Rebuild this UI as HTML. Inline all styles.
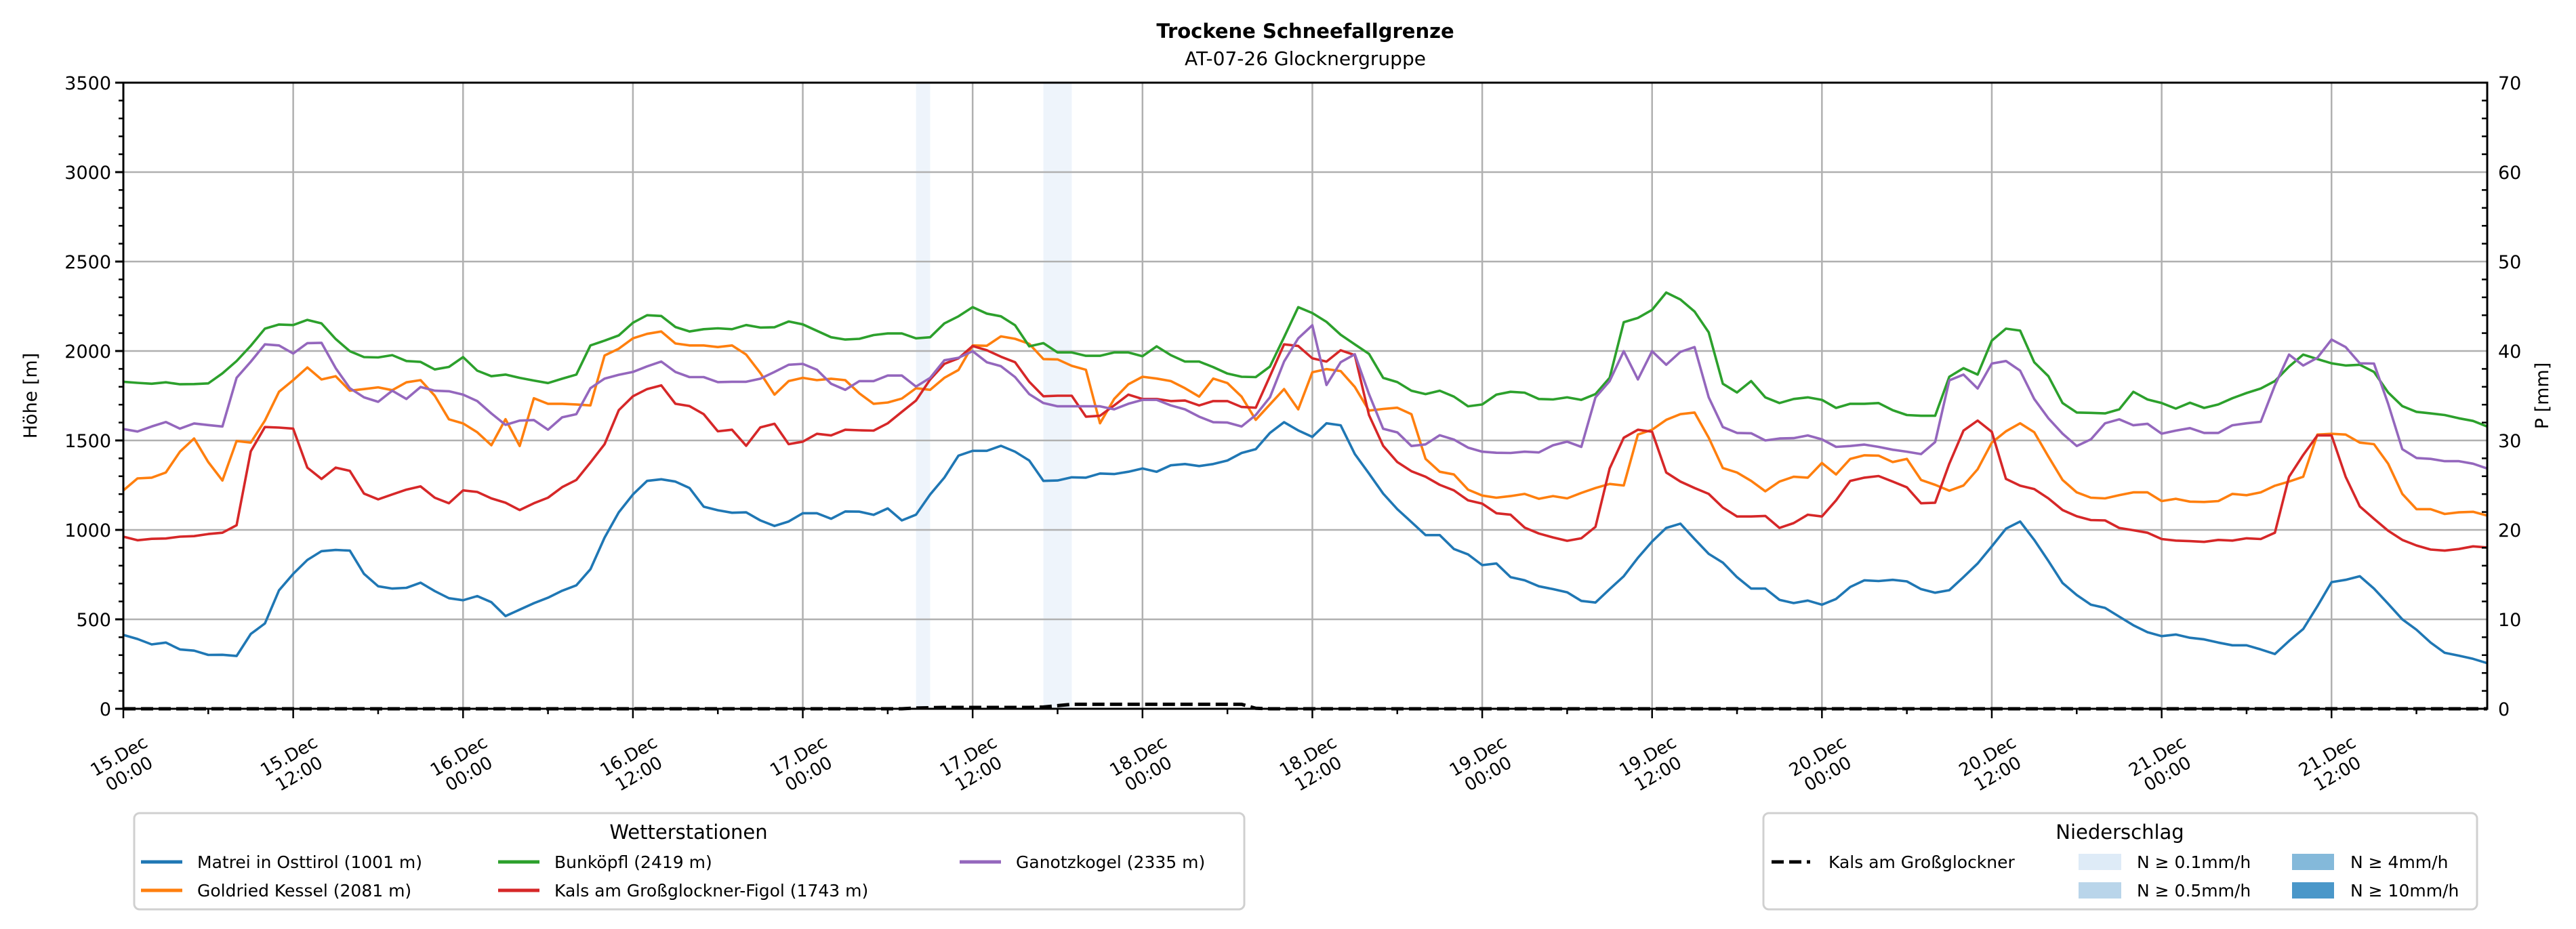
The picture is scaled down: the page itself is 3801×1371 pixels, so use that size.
<!DOCTYPE html>
<html><head><meta charset="utf-8"><style>
html,body{margin:0;padding:0;background:#fff;}
svg{display:block;font-family:"DejaVu Sans","Liberation Sans",sans-serif;}
</style></head><body>
<svg id="chart" width="3801" height="1371" viewBox="0 0 3801 1371" xmlns="http://www.w3.org/2000/svg">
<rect width="3801" height="1371" fill="#fff"/>
<text x="1926" y="56" text-anchor="middle" font-size="29" font-weight="bold">Trockene Schneefallgrenze</text>
<text x="1926" y="96" text-anchor="middle" font-size="28">AT-07-26 Glocknergruppe</text>
<g id="bands"></g>
<g id="grid"></g>
<g id="series"></g>
<g id="axes"></g>
<text transform="translate(54,584) rotate(-90)" text-anchor="middle" font-size="27">Höhe [m]</text>
<text transform="translate(3760,584) rotate(-90)" text-anchor="middle" font-size="27">P [mm]</text>
<g id="legend1">
<rect x="198" y="1200" width="1638" height="142" rx="8" fill="#fff" stroke="#d0d0d0" stroke-width="3"/>
<text x="1016" y="1238" text-anchor="middle" font-size="29">Wetterstationen</text>
</g>
<g id="legend2">
<rect x="2602" y="1200" width="1053" height="142" rx="8" fill="#fff" stroke="#d0d0d0" stroke-width="3"/>
<text x="3128" y="1238" text-anchor="middle" font-size="29">Niederschlag</text>
<line x1="2614" y1="1272" x2="2671" y2="1272" stroke="#000" stroke-width="5" stroke-dasharray="18 8"/>
<text x="2698" y="1281" font-size="25">Kals am Großglockner</text>
<rect x="3067" y="1260" width="63" height="24" fill="#deebf7"/>
<text x="3153" y="1281" font-size="25">N ≥ 0.1mm/h</text>
<rect x="3067" y="1302" width="63" height="24" fill="#b9d5ea"/>
<text x="3153" y="1323" font-size="25">N ≥ 0.5mm/h</text>
<rect x="3382" y="1260" width="62" height="24" fill="#84b9da"/>
<text x="3468" y="1281" font-size="25">N ≥ 4mm/h</text>
<rect x="3382" y="1302" width="62" height="24" fill="#4a97c9"/>
<text x="3468" y="1323" font-size="25">N ≥ 10mm/h</text>
</g>
</svg>
<script>
const stationNames=["Matrei in Osttirol (1001 m)","Goldried Kessel (2081 m)","Bunköpfl (2419 m)","Kals am Großglockner-Figol (1743 m)","Ganotzkogel (2335 m)"];
const stationColors=["#1f77b4","#ff7f0e","#2ca02c","#d62728","#9467bd"];
const matrei=[413,390,360,370,332,325,301,302,295,418,477,662,754,832,881,888,884,754,685,672,676,705,658,618,607,630,596,518,554,590,621,660,690,780,957,1098,1198,1274,1283,1270,1234,1130,1110,
1096,1098,1053,1022,1047,1093,1093,1062,1103,1102,1084,1120,1053,1085,1198,1292,1415,1442,1442,1470,1437,1388,1274,1276,1294,1292,1315,1312,1325,1343,1325,1361,1368,1357,1368,1388,1430,1451,1542,1602,1556,
1520,1596,1585,1424,1315,1203,1116,1044,971,971,893,863,803,812,736,718,685,669,651,603,594,669,741,844,935,1011,1035,949,866,817,736,672,672,609,591,605,582,614,681,718,714,721,
712,669,649,663,736,812,908,1007,1047,944,826,703,636,582,564,515,467,428,406,415,397,388,370,355,355,332,306,379,446,573,708,721,741,672,587,500,442,370,313,297,279,255];
const goldried=[1221,1288,1292,1321,1437,1511,1379,1276,1497,1488,1611,1772,1837,1908,1841,1859,1778,1787,1797,1781,1825,1837,1750,1618,1595,1546,1473,1619,1469,1736,1705,1705,1701,1696,1975,2013,2071,2096,2109,2042,2031,2031,2022,
2031,1980,1877,1756,1832,1850,1837,1845,1837,1763,1705,1712,1734,1792,1783,1850,1894,2031,2029,2082,2068,2040,1955,1953,1917,1895,1596,1732,1814,1856,1846,1832,1792,1745,1846,1821,1745,1615,1701,1787,1674,
1881,1899,1888,1799,1667,1676,1683,1647,1397,1325,1310,1225,1192,1180,1189,1201,1174,1189,1176,1207,1234,1257,1248,1533,1560,1615,1647,1656,1515,1346,1321,1274,1216,1270,1297,1292,1374,1310,1397,1417,1415,1379,
1397,1279,1252,1219,1248,1339,1488,1551,1596,1546,1410,1279,1210,1180,1176,1194,1210,1210,1161,1174,1158,1156,1161,1201,1194,1210,1247,1270,1297,1533,1537,1533,1488,1479,1370,1201,1116,1116,1089,1098,1101,1080];
const bunkoepfl=[1828,1822,1817,1825,1814,1815,1819,1875,1944,2029,2125,2148,2145,2174,2154,2067,1999,1966,1964,1977,1944,1939,1897,1911,1966,1890,1859,1868,1850,1835,1821,1845,1868,2031,2058,2087,2158,2200,2196,2134,2109,2122,2127,
2122,2145,2131,2133,2165,2149,2113,2077,2064,2068,2089,2098,2098,2071,2077,2154,2194,2245,2209,2194,2144,2026,2044,1992,1992,1973,1973,1992,1992,1971,2026,1977,1941,1941,1910,1874,1856,1854,1913,2077,2245,
2212,2163,2091,2037,1984,1850,1826,1778,1759,1778,1745,1691,1701,1756,1772,1767,1732,1729,1741,1727,1759,1850,2161,2185,2230,2327,2288,2221,2104,1817,1768,1832,1741,1709,1732,1741,1727,1682,1705,1705,1709,1669,
1642,1638,1638,1856,1904,1868,2058,2125,2114,1937,1859,1709,1656,1654,1651,1674,1772,1729,1709,1678,1711,1682,1701,1736,1765,1790,1832,1913,1980,1955,1931,1919,1923,1883,1768,1692,1660,1651,1642,1624,1609,1578];
const kalsFigol=[962,942,950,952,962,965,977,984,1026,1439,1575,1572,1566,1348,1285,1348,1330,1203,1171,1198,1225,1243,1180,1149,1221,1212,1176,1152,1111,1149,1180,1239,1279,1377,1479,1669,1747,1787,1808,1705,1692,1647,1551,
1560,1470,1573,1593,1479,1493,1537,1528,1560,1557,1555,1596,1660,1723,1841,1928,1959,2028,2004,1968,1937,1828,1747,1750,1750,1633,1638,1696,1756,1732,1732,1720,1723,1696,1720,1720,1687,1683,1859,2037,2028,
1959,1941,2004,1977,1642,1470,1379,1328,1297,1252,1221,1165,1147,1093,1085,1013,980,958,939,953,1017,1343,1515,1560,1549,1321,1270,1234,1201,1125,1075,1075,1078,1011,1038,1085,1075,1165,1274,1292,1301,1270,
1238,1149,1152,1370,1555,1611,1548,1285,1247,1228,1176,1111,1076,1055,1053,1011,998,984,949,940,937,933,944,940,953,949,984,1297,1419,1528,1528,1297,1131,1062,995,944,913,890,884,893,908,902];
const ganotzkogel=[1564,1550,1578,1603,1566,1595,1586,1578,1850,1940,2037,2031,1986,2044,2046,1904,1792,1741,1716,1778,1732,1799,1778,1775,1756,1720,1651,1587,1611,1614,1560,1629,1647,1792,1846,1867,1883,1914,1941,1883,1854,1854,1826,
1828,1828,1845,1883,1923,1928,1895,1817,1783,1832,1832,1863,1863,1801,1850,1948,1962,1999,1937,1915,1854,1759,1709,1691,1691,1691,1691,1674,1705,1727,1727,1696,1674,1633,1602,1600,1578,1642,1741,1941,2071,
2144,1810,1937,1982,1759,1565,1545,1469,1478,1529,1505,1460,1437,1431,1430,1437,1433,1473,1493,1464,1741,1832,1999,1841,1999,1923,1995,2022,1741,1575,1542,1540,1500,1511,1513,1528,1506,1464,1469,1477,1464,1448,
1437,1424,1491,1836,1868,1790,1930,1944,1890,1732,1624,1538,1469,1506,1596,1618,1585,1593,1538,1555,1569,1542,1542,1585,1596,1604,1808,1980,1919,1962,2064,2022,1931,1930,1705,1451,1402,1397,1384,1384,1370,1343];
const precipKals=[
0,0,0,0,0,0,0,0,0,0,0,0,
0,0,0,0,0,0,0,0,0,0,0,0,
0,0,0,0,0,0,0,0,0,0,0,0,
0,0,0,0,0,0,0,0,0,0,0,0,
0,0,0,0,0,0,0,0,0.08,0.12,0.15,0.15,
0.15,0.15,0.15,0.15,0.15,0.2,0.35,0.5,0.5,0.5,0.5,0.5,
0.5,0.5,0.5,0.5,0.5,0.5,0.5,0.5,0.05,0,0,0,
0,0,0,0,0,0,0,0,0,0,0,0,
0,0,0,0,0,0,0,0,0,0,0,0,
0,0,0,0,0,0,0,0,0,0,0,0,
0,0,0,0,0,0,0,0,0,0,0,0,
0,0,0,0,0,0,0,0,0,0,0,0,
0,0,0,0,0,0,0,0,0,0,0,0,
0,0,0,0,0,0,0,0,0,0,0,0];
const precipBandHours=[56,65,66];
const tickLabels=["15.Dec|00:00","15.Dec|12:00","16.Dec|00:00","16.Dec|12:00","17.Dec|00:00","17.Dec|12:00","18.Dec|00:00","18.Dec|12:00","19.Dec|00:00","19.Dec|12:00","20.Dec|00:00","20.Dec|12:00","21.Dec|00:00","21.Dec|12:00"];
const yTicks=[0,500,1000,1500,2000,2500,3000,3500];
const y2Ticks=[0,10,20,30,40,50,60,70];

const L=182,R=3670,T=122,B=1046,HMAX=167;
const xS=h=>L+h*(R-L)/HMAX;
const yS=v=>B-v*(B-T)/3500;
const pS=p=>B-p*(B-T)/70;
const NS="http://www.w3.org/2000/svg";
function mk(tag,attrs,parent){const e=document.createElementNS(NS,tag);for(const k in attrs)e.setAttribute(k,attrs[k]);parent.appendChild(e);return e;}

const bands=document.getElementById('bands');
precipBandHours.forEach(h=>{
 const r=mk('rect',{x:xS(h),y:T,width:xS(h+1)-xS(h),height:B-T,fill:'#eef4fb'},bands);
 
 
});

const grid=document.getElementById('grid');
yTicks.forEach(v=>{mk('line',{x1:L,x2:R,y1:yS(v),y2:yS(v),stroke:'#b0b0b0','stroke-width':2.5},grid);});
tickLabels.forEach((t,i)=>{mk('line',{x1:xS(i*12),x2:xS(i*12),y1:T,y2:B,stroke:'#b0b0b0','stroke-width':2.5},grid);});

const series=document.getElementById('series');
[matrei,goldried,bunkoepfl,kalsFigol,ganotzkogel].forEach((arr,si)=>{
 const d=arr.map((v,i)=>(i?'L':'M')+xS(i).toFixed(1)+','+yS(v).toFixed(1)).join('');
 const p=mk('path',{d:d,fill:'none',stroke:stationColors[si],'stroke-width':3.6,'stroke-linejoin':'round'},series);
 
 
});
const pd=precipKals.map((v,i)=>(i?'L':'M')+xS(i).toFixed(1)+','+pS(v).toFixed(1)).join('');
const pl=mk('path',{d:pd,fill:'none',stroke:'#000','stroke-width':5,'stroke-dasharray':'18 8'},series);



const axes=document.getElementById('axes');
mk('rect',{x:L,y:T,width:R-L,height:B-T,fill:'none',stroke:'#000','stroke-width':3},axes);
for(let v=0;v<=3500;v+=100){const big=v%500===0;mk('line',{x1:L-(big?12:7),x2:L,y1:yS(v),y2:yS(v),stroke:'#000','stroke-width':big?3:2.5},axes);}
yTicks.forEach(v=>{const t=mk('text',{x:L-18,y:yS(v)+10,'text-anchor':'end','font-size':27},axes);t.textContent=v;
 
 });
for(let p=0;p<=70;p+=2){if(p%10)mk('line',{x1:R-8,x2:R,y1:pS(p),y2:pS(p),stroke:'#000','stroke-width':2.5},axes);}
y2Ticks.forEach(p=>{const t=mk('text',{x:R+16,y:pS(p)+10,'font-size':27},axes);t.textContent=p;
 
 });
for(let h=0;h<=HMAX;h+=6){const big=h%12===0;mk('line',{x1:xS(h),x2:xS(h),y1:B,y2:B+(big?14:8),stroke:'#000','stroke-width':2.5},axes);}
tickLabels.forEach((lab,i)=>{
 const g=mk('g',{transform:`translate(${xS(i*12)},1127) rotate(-30)`},axes);
 
 
 const parts=lab.split('|');
 const a=mk('text',{x:0,y:-4,'text-anchor':'middle','font-size':26},g);a.textContent=parts[0];
 const b=mk('text',{x:0,y:26,'text-anchor':'middle','font-size':26},g);b.textContent=parts[1];
});

const lg=document.getElementById('legend1');
const pos=[[208,1272],[208,1314],[735,1272],[735,1314],[1416,1272]];
stationNames.forEach((n,i)=>{
 const [x,y]=pos[i];
 const ln=mk('line',{x1:x,x2:x+61,y1:y,y2:y,stroke:stationColors[i],'stroke-width':5},lg);
 
 
 const t=mk('text',{x:x+83,y:y+9,'font-size':25},lg);t.textContent=n;
 
 
});
</script>
</body></html>
